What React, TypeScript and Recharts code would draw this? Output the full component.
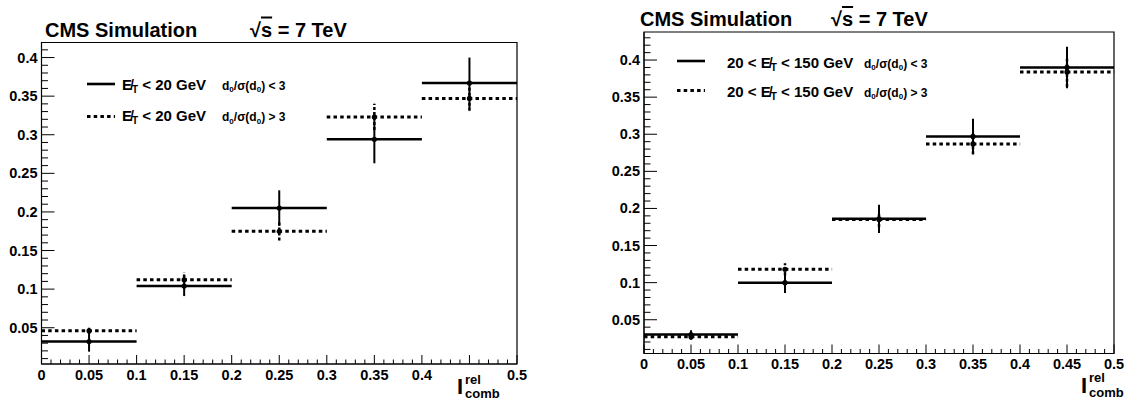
import React from "react";
import { ComposedChart, Scatter, ErrorBar, XAxis, YAxis, ReferenceArea } from "recharts";

// bins of I_comb^rel
const binCenters = [0.05, 0.15, 0.25, 0.35, 0.45];
const binHalfWidth = 0.05;

// left panel: MET < 20 GeV
const lowMetPrompt = [0.032, 0.104, 0.205, 0.294, 0.367];
const lowMetPromptErr = [0.013, 0.013, 0.023, 0.031, 0.033];
const lowMetDisplaced = [0.046, 0.112, 0.175, 0.323, 0.347];
const lowMetDisplacedErr = [0.004, 0.01, 0.012, 0.017, 0.016];

// right panel: 20 < MET < 150 GeV
const highMetPrompt = [0.03, 0.1, 0.186, 0.297, 0.39];
const highMetPromptErr = [0.006, 0.014, 0.019, 0.024, 0.028];
const highMetDisplaced = [0.027, 0.118, 0.185, 0.287, 0.384];
const highMetDisplacedErr = [0.004, 0.008, 0.01, 0.014, 0.02];

const xMajorTicks = [0, 0.05, 0.1, 0.15, 0.2, 0.25, 0.3, 0.35, 0.4, 0.45, 0.5];
const yMajorTicks = [0.05, 0.1, 0.15, 0.2, 0.25, 0.3, 0.35, 0.4];
const minorStep = 0.01;

const font = "'Liberation Sans', Arial, Helvetica, sans-serif";

const near = (a: number, b: number) => Math.abs(a - b) < 1e-6;
const fmt = (v: number) => String(parseFloat(v.toFixed(2)));

// minor ticks every 0.01 inside the domain (majors are part of it)
function minorTicks(lo: number, hi: number) {
  const out: number[] = [];
  for (let i = Math.ceil(lo / minorStep - 1e-6); i * minorStep <= hi + 1e-9; i++) {
    out.push(+(i * minorStep).toFixed(2));
  }
  return out;
}

function toPoints(values: number[], errs: number[]) {
  return binCenters.map((x, i) => ({ x, y: values[i], xErr: binHalfWidth, yErr: errs[i] }));
}

const dot = (p: any) => <circle cx={p.cx} cy={p.cy} r={2.6} fill="#000" />;

function YTick({ x, y, payload }: any) {
  const v = payload.value;
  const major = yMajorTicks.some((t) => near(t, v));
  return (
    <g>
      <line x1={x} x2={x + (major ? 13 : 6.5)} y1={y} y2={y} stroke="#000" strokeWidth={1} />
      {major && (
        <text x={x - 4} y={y + 5} textAnchor="end" fontFamily={font} fontWeight="bold" fontSize={14.5} fill="#000">
          {fmt(v)}
        </text>
      )}
    </g>
  );
}

function XTick({ x, y, payload, hidden }: any) {
  const v = payload.value;
  const major = xMajorTicks.some((t) => near(t, v));
  const showLabel = major && !hidden.some((h: number) => near(h, v));
  return (
    <g>
      <line x1={x} x2={x} y1={y} y2={y - (major ? 9 : 4.5)} stroke="#000" strokeWidth={1} />
      {showLabel && (
        <text x={x} y={y + 15.5} textAnchor="middle" fontFamily={font} fontWeight="bold" fontSize={14.5} fill="#000">
          {fmt(v)}
        </text>
      )}
    </g>
  );
}

function Panel({ left, width, margin, yAxisWidth, xAxisHeight, yDomain, solid, dotted, hiddenX }: any) {
  return (
    <div style={{ position: "absolute", left, top: 0 }}>
      <ComposedChart width={width} height={401} margin={margin}>
        <XAxis
          dataKey="x"
          type="number"
          domain={[0, 0.5]}
          ticks={minorTicks(0, 0.5)}
          interval={0}
          height={xAxisHeight}
          tickSize={0}
          tickMargin={0}
          tickLine={false}
          axisLine={{ stroke: "#000" }}
          tick={(p: any) => <XTick {...p} hidden={hiddenX} />}
          allowDataOverflow
        />
        <YAxis
          dataKey="y"
          type="number"
          domain={yDomain}
          ticks={minorTicks(yDomain[0], yDomain[1])}
          interval={0}
          width={yAxisWidth}
          tickSize={0}
          tickMargin={0}
          tickLine={false}
          axisLine={{ stroke: "#000" }}
          tick={(p: any) => <YTick {...p} />}
          allowDataOverflow
        />
        <ReferenceArea
          x1={0}
          x2={0.5}
          y1={yDomain[0]}
          y2={yDomain[1]}
          fill="none"
          stroke="#000"
          strokeWidth={1.2}
          ifOverflow="visible"
        />
        <Scatter data={dotted} shape={dot} isAnimationActive={false}>
          <ErrorBar dataKey="xErr" direction="x" width={0} stroke="#000" strokeWidth={3} strokeDasharray="3.5 3.2" isAnimationActive={false} />
          <ErrorBar dataKey="yErr" direction="y" width={0} stroke="#000" strokeWidth={2.5} strokeDasharray="3 2" isAnimationActive={false} />
        </Scatter>
        <Scatter data={solid} shape={dot} isAnimationActive={false}>
          <ErrorBar dataKey="xErr" direction="x" width={0} stroke="#000" strokeWidth={2.5} isAnimationActive={false} />
          <ErrorBar dataKey="yErr" direction="y" width={0} stroke="#000" strokeWidth={2} isAnimationActive={false} />
        </Scatter>
      </ComposedChart>
    </div>
  );
}

function Title({ x, sx, y }: any) {
  return (
    <g fontFamily={font} fontWeight="bold" fontSize={20} fill="#000">
      <text x={x} y={y}>CMS Simulation</text>
      <text x={sx} y={y}>
        √<tspan style={{ textDecoration: "overline" }}>s</tspan> = 7 TeV
      </text>
    </g>
  );
}

function MetText({ x, y, prefix, suffix }: any) {
  return (
    <text x={x} y={y} fontFamily={font} fontWeight="bold" fontSize={15} fill="#000" style={{ whiteSpace: "pre" }}>
      {prefix + "E\u0338"}
      <tspan dy={3} fontSize={10}>T</tspan>
      <tspan dy={-3}>{" " + suffix}</tspan>
    </text>
  );
}

function D0Text({ x, y, op }: any) {
  return (
    <text x={x} y={y} fontFamily={font} fontWeight="bold" fontSize={12} fill="#000" style={{ whiteSpace: "pre" }}>
      d<tspan dy={2.5} fontSize={8}>0</tspan>
      <tspan dy={-2.5}>/σ(d</tspan>
      <tspan dy={2.5} fontSize={8}>0</tspan>
      <tspan dy={-2.5}>{") " + op + " 3"}</tspan>
    </text>
  );
}

function LegendBlock({ lx1, lx2, tx, dx, rows, prefix, suffix }: any) {
  return (
    <g>
      {rows.map((r: any, i: number) => (
        <g key={i}>
          <line
            x1={lx1}
            x2={lx2}
            y1={r.line}
            y2={r.line}
            stroke="#000"
            strokeWidth={r.dashed ? 3 : 2.6}
            strokeDasharray={r.dashed ? "3.5 3.2" : undefined}
          />
          <MetText x={tx} y={r.base} prefix={prefix} suffix={suffix} />
          <D0Text x={dx} y={r.base} op={r.op} />
        </g>
      ))}
    </g>
  );
}

function AxisTitle({ x, y, supY, subY }: any) {
  return (
    <g fontFamily={font} fontWeight="bold" fill="#000">
      <text x={x} y={y} fontSize={22}>I</text>
      <text x={x + 8} y={supY} fontSize={13}>rel</text>
      <text x={x + 8} y={subY} fontSize={13}>comb</text>
    </g>
  );
}

export default function App() {
  return (
    <div style={{ position: "absolute", left: 0, top: 0, width: 1127, height: 401, background: "#fff" }}>
      <Panel
        left={0}
        width={540}
        margin={{ top: 42.5, right: 23, bottom: 0, left: 0 }}
        yAxisWidth={41.5}
        xAxisHeight={37}
        yDomain={[0.003, 0.4195]}
        solid={toPoints(lowMetPrompt, lowMetPromptErr)}
        dotted={toPoints(lowMetDisplaced, lowMetDisplacedErr)}
        hiddenX={[0.45]}
      />
      <Panel
        left={560}
        width={567}
        margin={{ top: 32, right: 13, bottom: 0, left: 0 }}
        yAxisWidth={84}
        xAxisHeight={47.5}
        yDomain={[0.0045, 0.4378]}
        solid={toPoints(highMetPrompt, highMetPromptErr)}
        dotted={toPoints(highMetDisplaced, highMetDisplacedErr)}
        hiddenX={[]}
      />
      <svg
        width={1127}
        height={401}
        style={{ position: "absolute", left: 0, top: 0, pointerEvents: "none" }}
      >
        <Title x={45} sx={250} y={36.5} />
        <Title x={640} sx={831} y={26} />
        <LegendBlock
          lx1={87}
          lx2={115}
          tx={122}
          dx={222}
          prefix=""
          suffix="< 20 GeV"
          rows={[
            { line: 84, base: 89.5, dashed: false, op: "<" },
            { line: 116.5, base: 121, dashed: true, op: ">" },
          ]}
        />
        <LegendBlock
          lx1={677}
          lx2={705}
          tx={727}
          dx={864}
          prefix="20 < "
          suffix="< 150 GeV"
          rows={[
            { line: 61, base: 67.5, dashed: false, op: "<" },
            { line: 90.5, base: 96.5, dashed: true, op: ">" },
          ]}
        />
        <AxisTitle x={457} y={394} supY={384} subY={397.5} />
        <AxisTitle x={1081} y={393} supY={381.5} subY={396.5} />
      </svg>
    </div>
  );
}
